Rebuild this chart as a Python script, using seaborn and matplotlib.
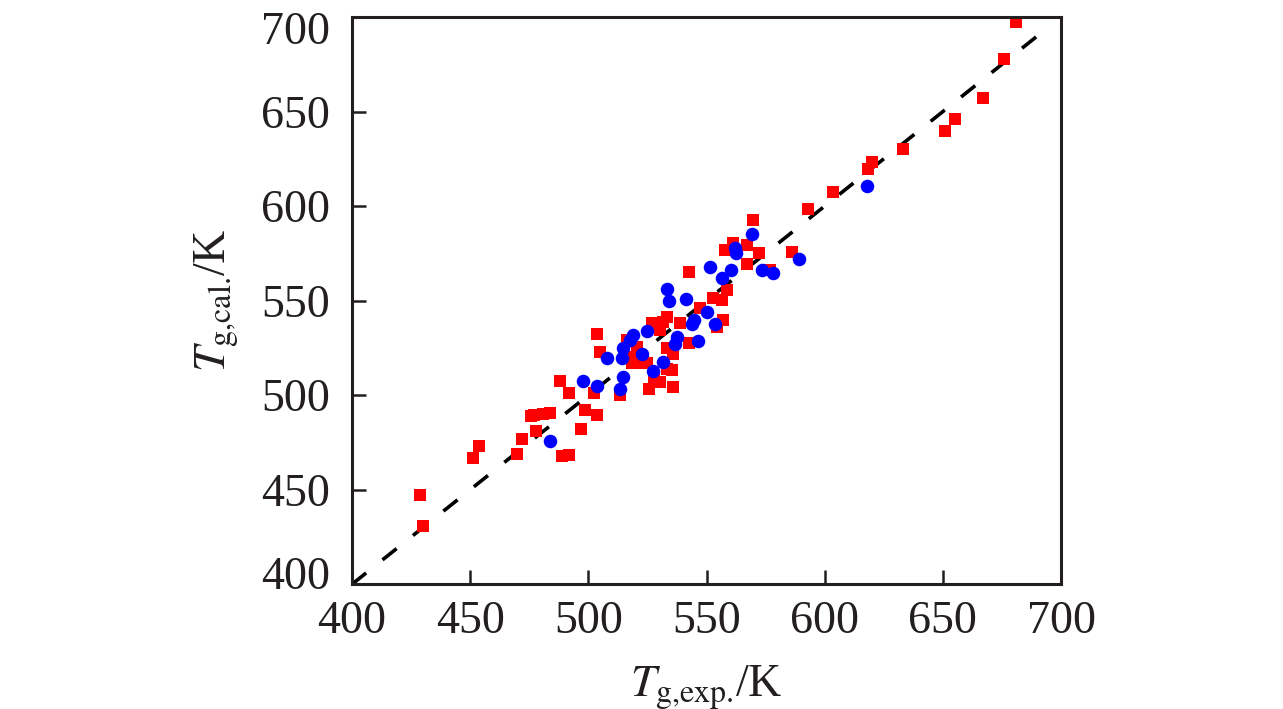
import numpy as np
import pandas as pd
import seaborn as sns
import matplotlib.pyplot as plt
import matplotlib.transforms as mtransforms

red_exp = [428.8, 430.0, 451.0, 453.7, 469.8, 471.9, 475.8, 476.8, 481.0, 483.8, 478.0,
           488.8, 491.7, 496.8, 498.7, 503.6, 491.7, 488.0, 502.2, 503.6, 505.0, 513.4,
           516.3, 520.5, 523.3, 518.4, 516.4, 521.9, 524.9, 525.6, 527.6, 530.1, 533.2,
           535.3, 536.0, 533.2, 536.0, 526.8, 530.3, 533.2, 538.8, 542.5, 542.5, 547.3,
           552.9, 556.4, 557.1, 554.3, 558.6, 542.5, 557.8, 561.4, 567.0, 569.6, 572.2,
           567.0, 577.0, 586.3, 593.1, 603.3, 618.2, 620.2, 633.0, 651.1, 655.2, 666.8,
           676.0, 681.0, 528.2, 531.7, 520.6]
red_cal = [447.0, 431.0, 467.0, 473.0, 469.0, 477.0, 489.0, 489.4, 490.0, 490.3, 481.0,
           468.0, 468.5, 482.0, 492.0, 489.4, 500.9, 507.5, 500.9, 532.6, 522.9, 500.0,
           529.1, 522.0, 518.5, 516.8, 520.3, 516.8, 516.8, 503.5, 508.0, 507.0, 513.6,
           513.2, 504.2, 524.7, 522.0, 537.9, 534.4, 541.4, 537.9, 527.4, 564.9, 545.9,
           551.2, 550.3, 539.7, 536.1, 555.6, 527.4, 576.7, 580.3, 579.4, 592.6, 575.0,
           569.6, 566.0, 575.8, 598.4, 607.6, 619.4, 623.5, 630.0, 639.8, 645.9, 657.3,
           677.8, 697.5, 536.2, 538.8, 525.6]

blue_exp = [483.6, 497.6, 503.6, 507.8, 514.3, 514.6, 513.4, 514.8, 517.6, 519.0, 524.7,
            522.6, 527.5, 531.5, 537.3, 536.5, 546.2, 543.8, 544.5, 550.1, 553.6, 533.2,
            534.3, 541.3, 551.3, 556.4, 560.3, 562.1, 562.5, 569.2, 573.4, 578.3, 589.0,
            618.1]
blue_cal = [475.7, 507.6, 504.8, 519.4, 519.4, 509.7, 503.5, 524.7, 529.1, 531.7, 533.9,
            522.0, 512.6, 517.6, 530.8, 527.0, 528.7, 537.6, 539.7, 544.0, 537.6, 555.9,
            549.9, 550.6, 567.9, 561.7, 566.1, 577.6, 575.0, 585.2, 566.1, 564.7, 571.8,
            610.8]

# y = x reference line
line_x = [400, 694]

sns.set_style("ticks")
plt.rcParams['font.family'] = ['Liberation Serif', 'DejaVu Serif']
plt.rcParams['mathtext.fontset'] = 'stix'

fig = plt.figure(figsize=(12.83, 7.09), dpi=100)
ax = fig.add_axes([0.2744, 0.176, 0.5526, 0.8])

df_red = pd.DataFrame({'exp': red_exp, 'cal': red_cal})
df_blue = pd.DataFrame({'exp': blue_exp, 'cal': blue_cal})
df_line = pd.DataFrame({'x': line_x, 'y': line_x})

sns.lineplot(data=df_line, x='x', y='y', ax=ax, color='black', linewidth=2.6,
             dashes=False, zorder=1)
ax.lines[0].set_dashes([5.0, 5.8])
sns.scatterplot(data=df_red, x='exp', y='cal', ax=ax, marker='s', s=78,
                color='#ff0000', linewidth=0, zorder=2)
sns.scatterplot(data=df_blue, x='exp', y='cal', ax=ax, marker='o', s=95,
                color='#0000ff', linewidth=0, zorder=3)

ax.set_xlim(400, 700)
ax.set_ylim(400, 700)
ax.set_xticks(np.arange(400, 701, 50))
ax.set_yticks(np.arange(400, 701, 50))
ax.tick_params(axis='both', direction='in', length=10, width=1.8, labelsize=33,
               colors='#231f20', top=False, right=False)
ax.tick_params(axis='x', pad=12)
ax.tick_params(axis='y', pad=16)
for sp in ax.spines.values():
    sp.set_linewidth(2.2)
    sp.set_color('#231f20')
    sp.set_visible(True)

# the end labels on the y axis sit inside the frame in the reference
ylabs = ax.get_yticklabels()
ylabs[-1].set_transform(ylabs[-1].get_transform() +
                        mtransforms.ScaledTranslation(0, -11 / 100, fig.dpi_scale_trans))
ylabs[0].set_transform(ylabs[0].get_transform() +
                       mtransforms.ScaledTranslation(0, 11 / 100, fig.dpi_scale_trans))

ax.set_xlabel(r'$T_{\mathrm{g{,}exp.}}\!$/K', fontsize=33, color='#231f20', labelpad=14)
ax.set_ylabel(r'$T_{\mathrm{g{,}cal.}}\!$/K', fontsize=33, color='#231f20', labelpad=15)

fig.savefig('out.png', dpi=100)
